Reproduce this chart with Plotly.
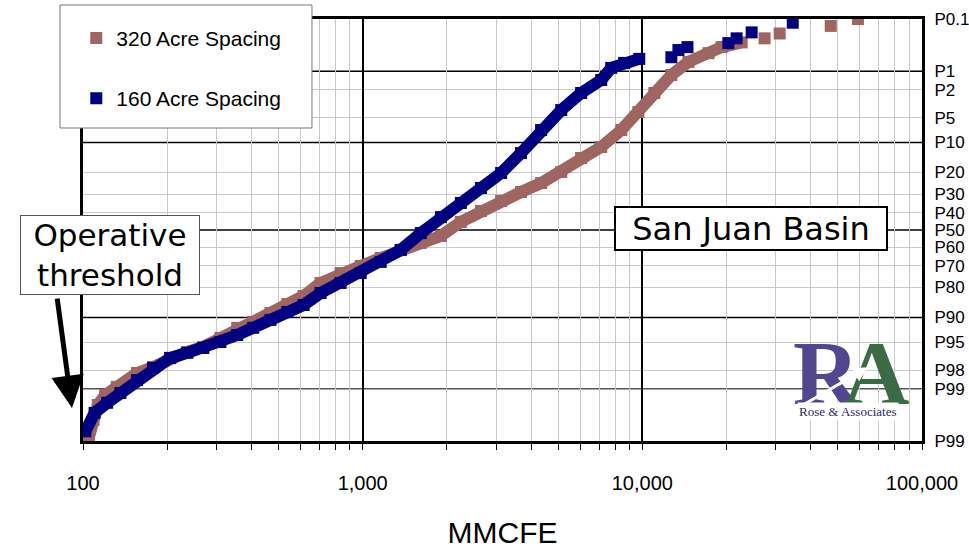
from statistics import NormalDist
import plotly.graph_objects as go

ND = NormalDist()


def zpos(p):
    # exceedance percent -> position on the probability (normal score) axis
    return ND.inv_cdf(1 - p / 100.0)


# 320 acre spacing, main band and the scattered top points
X_320 = [105, 109, 113, 120, 132, 156, 178, 205, 236, 269, 310, 356, 406, 468, 538, 615, 707, 834,
         984, 1160, 1368, 1614, 1905, 2245, 2649, 3126, 3683, 4345, 5129, 6040, 7128, 8410, 9680,
         11040, 12700, 14620, 17250, 19190, 22650]
P_320 = [99.88, 99.73, 99.48, 99.22, 98.92, 98.19, 97.76, 96.95, 96.3, 95.66, 94.3, 92.4, 91.1, 88.8,
         86.1, 83.3, 78.1, 73.6, 70.1, 65.9, 61.5, 57.5, 53.5, 45.3, 39.0, 33.5, 28.9, 24.6, 19.8,
         14.6, 11.2, 7.16, 4.2, 2.24, 1.16, 0.69, 0.48, 0.37, 0.30]
X_320_TAIL = [27360, 30980, 47170, 59000]
P_320_TAIL = [0.25, 0.20, 0.14, 0.10]

# 160 acre spacing
X_160 = [102, 110, 122, 136, 156, 178, 205, 236, 269, 310, 356, 406, 468, 538, 615, 707, 834, 984,
         1160, 1368, 1614, 1905, 2245, 2649, 3126, 3683, 4345, 5129, 6040, 7128, 7740, 8610, 9750]
P_160 = [99.84, 99.63, 99.43, 99.15, 98.60, 97.83, 96.95, 96.4, 95.8, 94.95, 93.8, 92.4, 90.6, 88.5,
         86.4, 82.2, 78.1, 73.6, 68.0, 61.5, 51.8, 42.5, 34.6, 26.9, 20.2, 13.0, 7.16, 3.95, 2.24,
         1.40, 0.88, 0.72, 0.61]
X_160_TAIL = [12700, 13460, 14500, 20300, 21730, 24600, 34500]
P_160_TAIL = [0.57, 0.42, 0.37, 0.31, 0.25, 0.19, 0.12]

P_TICKS = [0.1, 1, 2, 5, 10, 20, 30, 40, 50, 60, 70, 80, 90, 95, 98, 99, 99.9]
P_LABELS = ["P0.1", "P1", "P2", "P5", "P10", "P20", "P30", "P40", "P50", "P60", "P70", "P80",
            "P90", "P95", "P98", "P99", "P99"]
P_MAJOR = [1, 10, 50, 90]
P_MID = [99]
P_MINOR = [2, 5, 20, 30, 40, 60, 70, 80, 95, 98]

X_TICKS = [100, 1000, 10000, 100000]
X_LABELS = ["100", "1,000", "10,000", "100,000"]
X_MINOR = [m * d for d in (100, 1000, 10000) for m in range(2, 10)]

BROWN = "#9E6561"
NAVY = "#000080"
SANS = "Liberation Sans, Arial, sans-serif"
VERD = "DejaVu Sans, Verdana, sans-serif"
SERIF = "Liberation Serif, serif"

fig = go.Figure()

for xs, ps, xt, pt, col, name in [
    (X_320, P_320, X_320_TAIL, P_320_TAIL, BROWN, "320 Acre Spacing"),
    (X_160, P_160, X_160_TAIL, P_160_TAIL, NAVY, "160 Acre Spacing"),
]:
    fig.add_trace(go.Scatter(
        x=xs, y=[zpos(p) for p in ps], mode="lines+markers",
        line=dict(color=col, width=12),
        marker=dict(symbol="square", size=12, color=col),
        legendgroup=name, showlegend=False, hoverinfo="skip",
    ))
    fig.add_trace(go.Scatter(
        x=xt, y=[zpos(p) for p in pt], mode="markers", name=name,
        marker=dict(symbol="square", size=12, color=col),
        legendgroup=name,
    ))

shapes = []
for p in P_MAJOR:
    shapes.append(dict(type="line", xref="paper", x0=0, x1=1, yref="y", y0=zpos(p), y1=zpos(p),
                       line=dict(color="black", width=1.5), layer="below"))
for p in P_MID:
    shapes.append(dict(type="line", xref="paper", x0=0, x1=1, yref="y", y0=zpos(p), y1=zpos(p),
                       line=dict(color="#555555", width=1.5), layer="below"))
# legend frame
shapes.append(dict(type="rect", xref="paper", yref="paper", x0=-0.0274, x1=0.2729, y0=0.7417, y1=1.0332,
                   fillcolor="white", line=dict(color="#777777", width=1), layer="above"))

annotations = [
    dict(text="Operative<br>threshold", xref="paper", yref="paper", x=0.032, y=0.44,
         xanchor="center", yanchor="middle", showarrow=False,
         font=dict(family=VERD, size=31, color="black"),
         bgcolor="white", bordercolor="#555555", borderwidth=1, borderpad=2, width=174, height=74),
    dict(text="", xref="paper", yref="paper", x=-0.0131, y=0.078, showarrow=True,
         ax=-15, ay=-111, arrowhead=2, arrowwidth=5, arrowsize=1.3, arrowcolor="black"),
    dict(text="San Juan Basin", xref="paper", yref="paper", x=0.796, y=0.503,
         xanchor="center", yanchor="middle", showarrow=False,
         font=dict(family=VERD, size=32, color="black"), bgcolor="white",
         bordercolor="black", borderwidth=2, borderpad=2, width=266, height=37),
    # logo
    dict(text="<b>R</b>", xref="paper", yref="paper", x=0.887, y=0.16, xanchor="center",
         yanchor="middle", showarrow=False, font=dict(family=SERIF, size=92, color="#51468F")),
    dict(text="<b>A</b>", xref="paper", yref="paper", x=0.945, y=0.16, xanchor="center",
         yanchor="middle", showarrow=False, font=dict(family=SERIF, size=92, color="#3B6B44")),
    dict(text="", xref="paper", yref="paper", x=0.936, y=0.175, showarrow=True,
         ax=-69, ay=40, arrowhead=2, arrowwidth=3, arrowsize=1, arrowcolor="white"),
    dict(text="Rose & Associates", xref="paper", yref="paper", x=0.912, y=0.069, xanchor="center",
         yanchor="middle", showarrow=False, bgcolor="white",
         font=dict(family=SERIF, size=13, color="#2E2A6B")),
]

fig.update_xaxes(
    type="log", range=[2, 5], tickvals=X_TICKS, ticktext=X_LABELS, automargin=False,
    showgrid=True, gridcolor="black", gridwidth=1.5,
    showline=True, linecolor="black", linewidth=3, mirror=True,
    ticks="outside", ticklen=6, tickcolor="black", ticklabelstandoff=16,
    tickfont=dict(family=SANS, size=20, color="black"),
    minor=dict(tickvals=X_MINOR, showgrid=True, gridcolor="#C8C8C8", gridwidth=1,
               ticks="outside", ticklen=6, tickcolor="black"),
    title=dict(text="MMCFE", font=dict(family=SANS, size=30, color="black"), standoff=31),
    zeroline=False,
)
fig.update_yaxes(
    range=[zpos(99.9), zpos(0.1)], side="right", automargin=False,
    tickvals=[zpos(p) for p in P_TICKS], ticktext=P_LABELS,
    showgrid=False, zeroline=False,
    minor=dict(tickvals=[zpos(p) for p in P_MINOR], showgrid=True, gridcolor="#C8C8C8",
               gridwidth=1, ticks=""),
    showline=True, linecolor="black", linewidth=3, mirror=True,
    ticks="", ticklabelstandoff=6,
    tickfont=dict(family=SANS, size=17, color="black"),
)

fig.update_layout(
    width=969, height=549,
    margin=dict(l=83, r=47, t=19, b=108),
    paper_bgcolor="white", plot_bgcolor="white",
    shapes=shapes, annotations=annotations,
    legend=dict(x=-0.008, y=1.003, xanchor="left", yanchor="top", bgcolor="rgba(0,0,0,0)",
                font=dict(family=SANS, size=21, color="black"),
                traceorder="grouped", tracegroupgap=30),
)

# drop the default page margin and scrollbars so the figure sits flush in the window
fig.write_html(
    "out.html",
    config={"displayModeBar": False},
    post_script="document.body.style.margin='0';"
                "document.body.style.overflow='hidden';"
                "document.documentElement.style.overflow='hidden';",
)
